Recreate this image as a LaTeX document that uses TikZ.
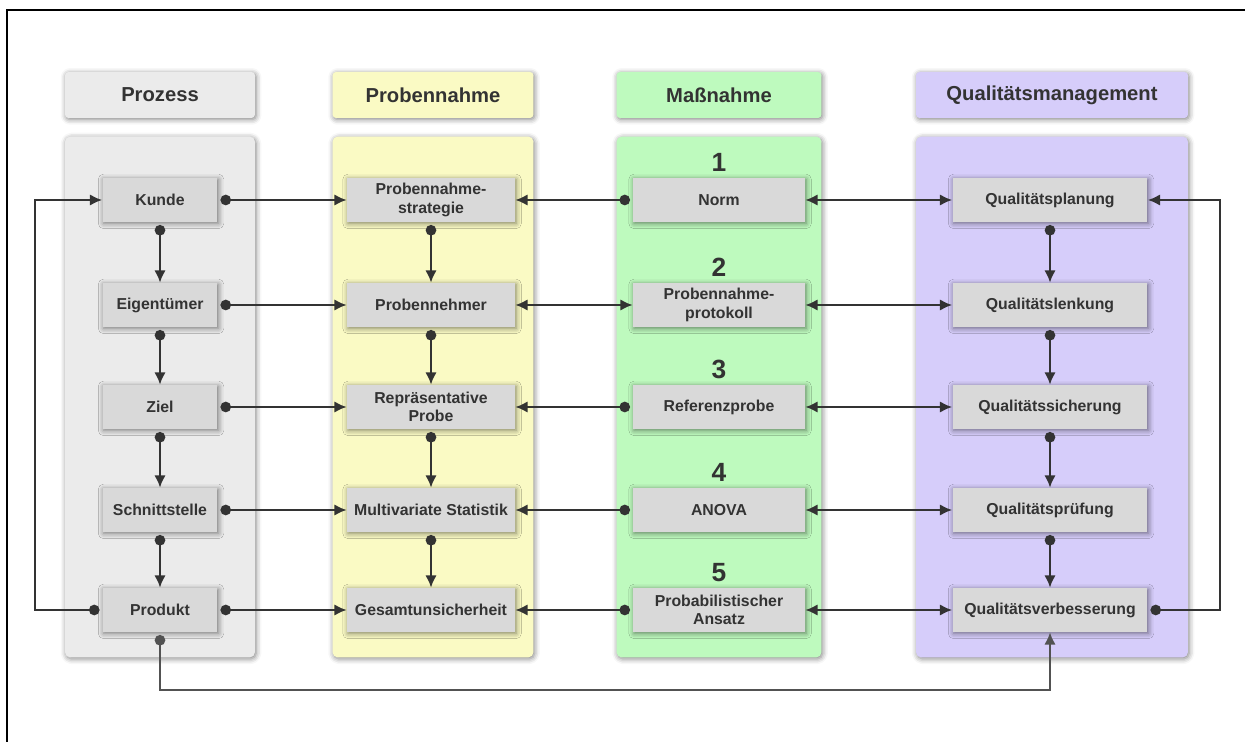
\documentclass[tikz,border=0pt]{standalone}
\usepackage{fontspec}
\setmainfont{Liberation Sans}
\usetikzlibrary{arrows.meta,positioning,shadows.blur}
\definecolor{ink}{HTML}{333333}
\definecolor{procbg}{HTML}{EBEBEB}
\definecolor{probbg}{HTML}{FAFAC4}
\definecolor{massbg}{HTML}{BEFABE}
\definecolor{qualbg}{HTML}{D6CDFA}
\definecolor{boxgray}{HTML}{D9D9D9}

\begin{document}
\begin{tikzpicture}[x=0.02cm,y=-0.02cm,font=\bfseries\fontsize{9}{10.5}\selectfont,text=ink,
  soft/.style={blur shadow={shadow xshift=0.6pt,shadow yshift=-0.8pt,shadow blur radius=3pt,shadow opacity=50}},
  head/.style={soft,rounded corners=2pt,minimum height=0.92cm,inner sep=0pt,font=\bfseries\fontsize{11.5}{13}\selectfont},
  lane/.style={soft,rounded corners=3pt,minimum height=10.42cm,inner sep=0pt},
  stage/.style={soft,fill=boxgray,minimum height=0.88cm,inner sep=2pt,align=center},
  num/.style={font=\bfseries\fontsize{15}{17}\selectfont},
  conn/.style={draw=ink,line width=1.2pt},
  dotto/.style={conn,{Circle[length=6pt]}-{Latex[length=7pt,width=6.5pt]},shorten <=1.5pt},
  both/.style={conn,{Latex[length=7pt,width=6.5pt]}-{Latex[length=7pt,width=6.5pt]}}]
\useasboundingbox (0,0) rectangle (1245,742);
\draw[line width=1.2pt] (7,742) -- (7,10) -- (1245,10);
% column headers and lanes
\foreach \n/\x/\w/\c/\t in {1/160/3.8cm/procbg/Prozess,2/433/4.02cm/probbg/Probennahme,
                            3/719/4.1cm/massbg/Maßnahme,4/1052/5.44cm/qualbg/Qualitätsmanagement}{
  \node[head,fill=\c,minimum width=\w] (h\n) at (\x,95) {\t};
  \node[lane,fill=\c,minimum width=\w] (lane\n) at (\x,397) {};
}
% stage boxes
\foreach \i/\y/\t in {1/200/Kunde,2/305/Eigentümer,3/407/Ziel,4/510/Schnittstelle,5/610/Produkt}{
  \node[stage,minimum width=2.3cm] (p\i) at (160,\y) {\t};
}
\foreach \i/\y/\t in {1/200/{Probennahme-\\strategie},2/305/Probennehmer,3/407/{Repräsentative\\Probe},
                      4/510/Multivariate Statistik,5/610/Gesamtunsicherheit}{
  \node[stage,minimum width=3.36cm] (s\i) at (431,\y) {\t};
}
\foreach \i/\y/\t in {1/200/Norm,2/305/{Probennahme-\\protokoll},3/407/Referenzprobe,
                      4/510/ANOVA,5/610/{Probabilistischer\\Ansatz}}{
  \node[stage,minimum width=3.44cm] (m\i) at (719,\y) {\t};
  \node[num,above=0pt of m\i] (n\i) {\i};
}
\foreach \i/\y/\t in {1/200/Qualitätsplanung,2/305/Qualitätslenkung,3/407/Qualitätssicherung,
                      4/510/Qualitätsprüfung,5/610/Qualitätsverbesserung}{
  \node[stage,minimum width=3.9cm] (q\i) at (1050,\y) {\t};
}
% horizontal links
\foreach \i in {1,...,5}{
  \draw[dotto] (p\i.east) -- (s\i.west);
  \draw[both] (m\i.east) -- (q\i.west);
}
\foreach \i in {1,3,4,5}{ \draw[dotto] (m\i.west) -- (s\i.east); }
\draw[both] (m2.west) -- (s2.east);
% vertical chains
\foreach \i [evaluate=\i as \j using int(\i+1)] in {1,...,4}{
  \draw[dotto] (p\i.south) -- (p\j.north);
  \draw[dotto] (s\i.south) -- (s\j.north);
  \draw[dotto] (q\i.south) -- (q\j.north);
}
% feedback loops
\draw[dotto] (p5.west) -- ++(-67,0) |- (p1.west);
\draw[dotto] (q5.east) -- ++(72,0) |- (q1.east);
\draw[dotto,draw=ink!85] (p5.south) -- ++(0,58) -| (q5.south);
\end{tikzpicture}
\end{document}
